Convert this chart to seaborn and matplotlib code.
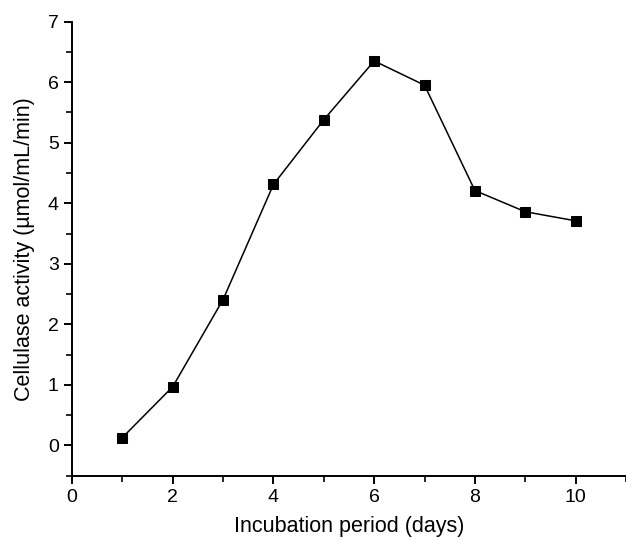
import matplotlib
matplotlib.use("Agg")
import matplotlib.pyplot as plt
from matplotlib.ticker import MultipleLocator
import pandas as pd
import seaborn as sns

# values
days = [1, 2, 3, 4, 5, 6, 7, 8, 9, 10]
activity = [0.13, 0.97, 2.41, 4.31, 5.38, 6.35, 5.95, 4.21, 3.86, 3.71]

df = pd.DataFrame({"days": days, "activity": activity})

sns.set_style("ticks")
plt.rcParams["font.family"] = ["Liberation Sans", "DejaVu Sans"]
plt.rcParams["text.color"] = "black"
plt.rcParams["axes.labelcolor"] = "black"

fig = plt.figure(figsize=(6.26, 5.4), dpi=100)
ax = fig.add_axes([0.115, 0.119, 0.885, 0.841])

sns.lineplot(data=df, x="days", y="activity", ax=ax, color="black",
             marker="s", markersize=6.5, markeredgecolor="black",
             linewidth=1.1)

ax.set_xlim(0, 11)
ax.set_ylim(-0.5, 7)
ax.xaxis.set_major_locator(MultipleLocator(2))
ax.xaxis.set_minor_locator(MultipleLocator(1))
ax.yaxis.set_major_locator(MultipleLocator(1))
ax.yaxis.set_minor_locator(MultipleLocator(0.5))

for s in ["top", "right"]:
    ax.spines[s].set_visible(False)
for s in ["left", "bottom"]:
    ax.spines[s].set_linewidth(1.4)
    ax.spines[s].set_color("black")

ax.tick_params(which="major", length=6, width=1.4, labelsize=14, colors="black", direction="out")
ax.tick_params(which="minor", length=4, width=1.4, direction="out")

ax.set_xlabel("Incubation period (days)", fontsize=15.5, labelpad=7)
ax.set_ylabel("Cellulase activity (µmol/mL/min)", fontsize=15.5, labelpad=9)

fig.savefig("out.png", dpi=100)
